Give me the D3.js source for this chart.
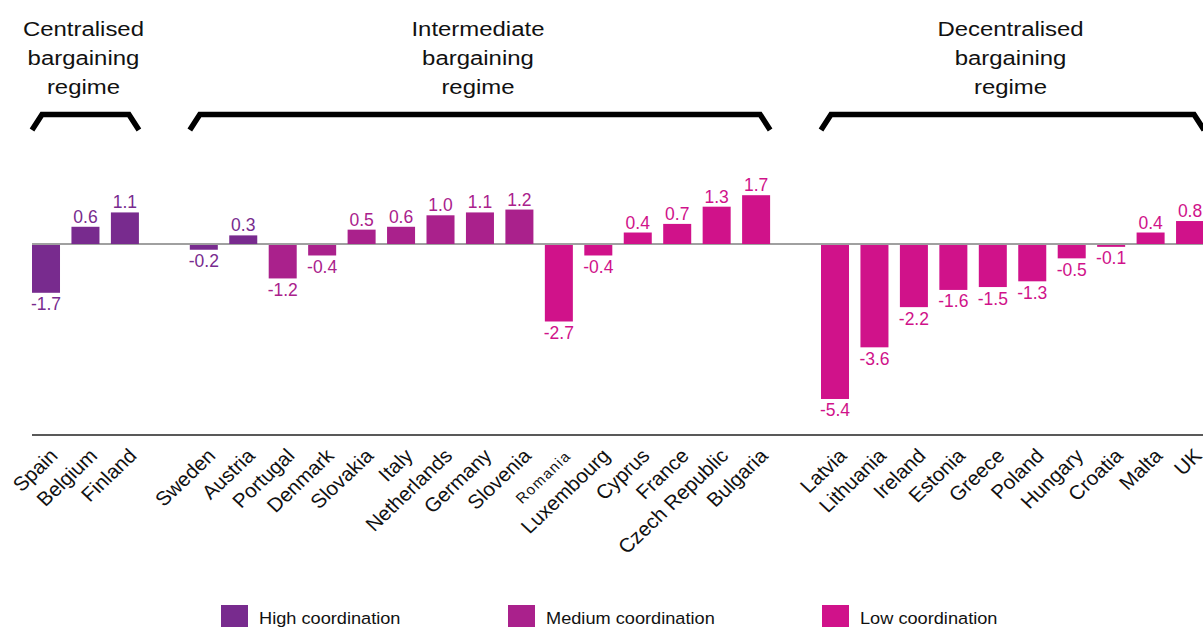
<!DOCTYPE html>
<html>
<head>
<meta charset="utf-8">
<script src="https://cdn.jsdelivr.net/npm/d3@7"></script>
<style>
  html, body { margin: 0; padding: 0; background: #fff; overflow: hidden; }
  svg { display: block; font-family: "Liberation Sans", Arial, sans-serif; }
</style>
</head>
<body>
<svg id="chart" width="1203" height="627"></svg>
<script>
// ---------- DATA ----------
const categories = ["Spain","Belgium","Finland",
  "Sweden","Austria","Portugal","Denmark","Slovakia","Italy","Netherlands","Germany","Slovenia","Romania","Luxembourg","Cyprus","France","Czech Republic","Bulgaria",
  "Latvia","Lithuania","Ireland","Estonia","Greece","Poland","Hungary","Croatia","Malta","UK"];
const values = [-1.7, 0.6, 1.1,
  -0.2, 0.3, -1.2, -0.4, 0.5, 0.6, 1.0, 1.1, 1.2, -2.7, -0.4, 0.4, 0.7, 1.3, 1.7,
  -5.4, -3.6, -2.2, -1.6, -1.5, -1.3, -0.5, -0.1, 0.4, 0.8];
const regimes = ["Centralised","Centralised","Centralised",
  "Intermediate","Intermediate","Intermediate","Intermediate","Intermediate","Intermediate","Intermediate","Intermediate","Intermediate","Intermediate","Intermediate","Intermediate","Intermediate","Intermediate","Intermediate",
  "Decentralised","Decentralised","Decentralised","Decentralised","Decentralised","Decentralised","Decentralised","Decentralised","Decentralised","Decentralised"];
const coordination = ["High","High","High",
  "High","High","Medium","Medium","Medium","Medium","Medium","Medium","Medium","Low","Low","Low","Low","Low","Low",
  "Low","Low","Low","Low","Low","Low","Low","Low","Low","Low"];
const regimeNames = ["Centralised","Intermediate","Decentralised"];
const regimeTitles = [["Centralised","bargaining","regime"],["Intermediate","bargaining","regime"],["Decentralised","bargaining","regime"]];
const coordLevels = ["High","Medium","Low"];
const legendLabels = ["High coordination","Medium coordination","Low coordination"];
const smallLabels = ["Romania"];

// ---------- STYLE ----------
const colors = { High: "#782B8E", Medium: "#AA218C", Low: "#D0128A" };
const fmt = v => d3.format(".1f")(v).replace("\u2212", "-");

const svg = d3.select("#chart");
const data = categories.map((c, i) => ({ c, v: values[i], r: regimes[i], k: coordination[i] }));

// band domain with one empty slot between regimes
const domain = [];
regimeNames.forEach((r, gi) => {
  if (gi > 0) domain.push("__gap" + gi);
  data.filter(d => d.r === r).forEach(d => domain.push(d.c));
});

const step = 39.45;
const x = d3.scaleBand()
  .domain(domain)
  .range([26.28, 26.28 + step * domain.length])
  .paddingInner(0.29)
  .paddingOuter(0.145);

const y = d3.scaleLinear().domain([-6.62, 0]).range([434, 244]);

// zero line
svg.append("line")
  .attr("x1", x(categories[0])).attr("x2", 1203)
  .attr("y1", y(0)).attr("y2", y(0))
  .attr("stroke", "#a0a0a0").attr("stroke-width", 2);

// bars
svg.append("g").selectAll("rect").data(data).join("rect")
  .attr("x", d => x(d.c))
  .attr("width", x.bandwidth())
  .attr("y", d => d.v >= 0 ? y(d.v) : y(0) + 1)
  .attr("height", d => Math.abs(y(d.v) - y(0)) + (d.v >= 0 ? 0 : -1))
  .attr("fill", d => colors[d.k]);

// bottom axis line
svg.append("line")
  .attr("x1", x(categories[0])).attr("x2", 1203)
  .attr("y1", 435).attr("y2", 435)
  .attr("stroke", "#222").attr("stroke-width", 1.6);

// value labels
svg.append("g").selectAll("text").data(data).join("text")
  .attr("x", d => x(d.c) + x.bandwidth() / 2)
  .attr("y", d => d.v >= 0 ? y(d.v) - 4 : y(d.v) + 17.5)
  .attr("text-anchor", "middle")
  .attr("font-size", 17.5)
  .attr("fill", d => colors[d.k])
  .text(d => fmt(d.v));

// category labels
svg.append("g").selectAll("text").data(data).join("text")
  .attr("transform", d => `translate(${x(d.c) + x.bandwidth() / 2 + 13},${457}) scale(1.05,1) rotate(-45)`)
  .attr("text-anchor", "end")
  .attr("font-size", d => smallLabels.includes(d.c) ? 14.5 : 19.8)
  .attr("letter-spacing", d => smallLabels.includes(d.c) ? 1.3 : 0)
  .attr("fill", "#111")
  .text(d => d.c);

// regime brackets and titles
regimeNames.forEach((r, gi) => {
  const members = data.filter(d => d.r === r);
  const x0 = x(members[0].c);
  const x1 = x(members[members.length - 1].c) + x.bandwidth();
  svg.append("path")
    .attr("d", `M${x0},130 L${x0 + 10},114.5 L${x1 - 10},114.5 L${x1},130`)
    .attr("fill", "none").attr("stroke", "#000").attr("stroke-width", 5.5)
    .attr("stroke-linejoin", "miter");
  const cx = (x0 + x1) / 2;
  const t = svg.append("g").attr("transform", `translate(${cx - 2},0) scale(1.14,1)`);
  regimeTitles[gi].forEach((line, li) => {
    t.append("text")
      .attr("x", 0).attr("y", 36 + li * 29)
      .attr("text-anchor", "middle")
      .attr("font-size", 21)
      .attr("fill", "#111")
      .text(line);
  });
});

// legend
const legendX = [221, 508, 822];
const lg = svg.append("g").selectAll("g").data(coordLevels).join("g")
  .attr("transform", (d, i) => `translate(${legendX[i]},605)`);
lg.append("rect").attr("width", 27).attr("height", 27).attr("fill", d => colors[d]);
lg.append("text").attr("transform", "translate(38,18.5) scale(1.07,1)").attr("font-size", 17).attr("fill", "#111")
  .text((d, i) => legendLabels[i]);
</script>
</body>
</html>
